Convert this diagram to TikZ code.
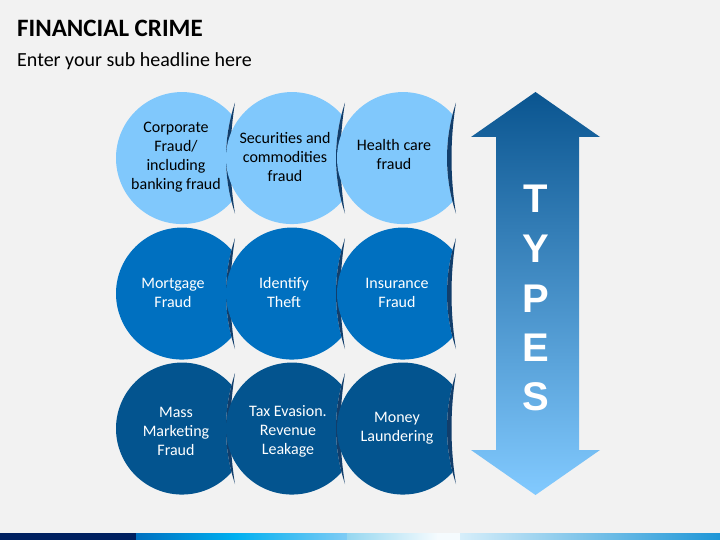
\documentclass[tikz,border=0pt]{standalone}
\usepackage{fontspec}
\setmainfont{Carlito}
\newfontfamily\typesfont{Liberation Sans}
\definecolor{bg}{HTML}{F2F2F2}
\definecolor{rowa}{HTML}{80C8FC}
\definecolor{rowb}{HTML}{0070C0}
\definecolor{rowc}{HTML}{03548F}
\definecolor{cres}{HTML}{123E6B}
\definecolor{arrtop}{HTML}{0A5590}
\definecolor{arrbot}{HTML}{82CAFF}
\definecolor{navy}{HTML}{002060}
\definecolor{barA}{RGB}{0,176,240}
\definecolor{barB}{RGB}{128,204,245}
\definecolor{barC}{RGB}{150,215,240}
\definecolor{barD}{RGB}{245,251,254}
\definecolor{barE}{RGB}{214,238,250}
\definecolor{barF}{RGB}{30,150,215}
\tikzset{
  pics/cutcirc/.style={code={
    \fill[#1] (49.5,43.7) arc[start angle=41.4,end angle=318.6,radius=66]
      arc[start angle=194.4,end angle=165.6,radius=175.6] -- cycle;
    \fill[cres] (53,55.5) arc[start angle=161.6,end angle=198.4,radius=175.6]
      arc[start angle=189.27,end angle=170.73,radius=344.5] -- cycle;
  }},
  ctext/.style={align=center,inner sep=0pt,font=\fontsize{16}{19}\selectfont},
  typeltr/.style={anchor=base,inner sep=0pt,text=white,font=\typesfont\bfseries\fontsize{40}{40}\selectfont}
}
\begin{document}
\begin{tikzpicture}[x=1pt,y=-1pt]
\useasboundingbox (0,0) rectangle (720,540);
\fill[bg] (0,0) rectangle (720,540);
% title
\node[anchor=base west,inner sep=0pt,font=\fontsize{25}{30}\selectfont\bfseries] (title) at (17,37) {FINANCIAL CRIME};
\node[anchor=base west,inner sep=0pt,font=\fontsize{20}{24}\selectfont] (sub) at (17,67) {Enter your sub headline here};
% circles
\pic at (182,158) {cutcirc=rowa};
\pic at (292,158) {cutcirc=rowa};
\pic at (403,158) {cutcirc=rowa};
\pic at (182,293.5) {cutcirc=rowb};
\pic at (292,293.5) {cutcirc=rowb};
\pic at (403,293.5) {cutcirc=rowb};
\pic at (182,428.5) {cutcirc=rowc};
\pic at (292,428.5) {cutcirc=rowc};
\pic at (403,428.5) {cutcirc=rowc};
% texts
\node[ctext,text=black] (t11) at (176,157) {Corporate\\Fraud/\\including\\banking fraud};
\node[ctext,text=black] (t12) at (285,157) {Securities and\\commodities\\fraud};
\node[ctext,text=black] (t13) at (394,155) {Health care\\fraud};
\node[ctext,text=white] (t21) at (173,293) {Mortgage\\Fraud};
\node[ctext,text=white] (t22) at (284,293) {Identify\\Theft};
\node[ctext,text=white] (t23) at (397,293) {Insurance\\Fraud};
\node[ctext,text=white] (t31) at (176,431) {Mass\\Marketing\\Fraud};
\node[ctext,text=white] (t32) at (288,431) {Tax Evasion.\\Revenue\\Leakage};
\node[ctext,text=white] (t33) at (397,428) {Money\\Laundering};
% arrow
\shade[top color=arrtop,middle color=rowb,bottom color=arrbot]
  (535.5,92) -- (600,137) -- (579,137) -- (579,450) -- (600,450) -- (535.5,495)
  -- (471,450) -- (496,450) -- (496,137) -- (471,137) -- cycle;
\node[typeltr] (lt) at (536,213) {T};
\node[typeltr] (ly) at (536,262.5) {Y};
\node[typeltr] (lp) at (536,312) {P};
\node[typeltr] (le) at (536,361) {E};
\node[typeltr] (ls) at (536,410) {S};
% bottom bar
\fill[navy] (0,533) rectangle (136.5,540);
\shade[left color=rowb,right color=barA] (136,533) rectangle (235.5,540);
\shade[left color=barA,right color=barB] (235,533) rectangle (347.5,540);
\shade[left color=barC,right color=barD] (347,533) rectangle (437.5,540);
\fill[barD] (437,533) rectangle (460.5,540);
\shade[left color=barE,right color=barF] (460,533) rectangle (720,540);
\end{tikzpicture}
\end{document}
